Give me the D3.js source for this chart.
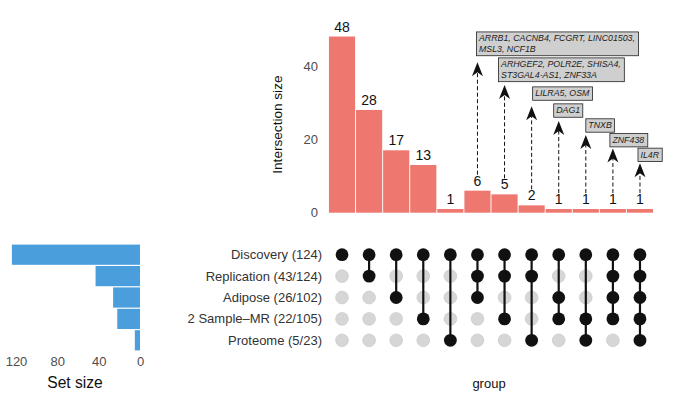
<!DOCTYPE html>
<html>
<head>
<meta charset="utf-8">
<script src="https://cdn.jsdelivr.net/npm/d3@7"></script>
<style>
  body { margin: 0; background: #fff; }
  text { font-family: "Liberation Sans", Arial, sans-serif; }
</style>
</head>
<body>
<div id="chart"></div>
<script>
// sets (rows of the matrix) and their sizes
const setNames = ["Discovery (124)", "Replication (43/124)", "Adipose (26/102)", "2 Sample\u2013MR (22/105)", "Proteome (5/23)"];
const setSizes = [124, 43, 26, 22, 5];

// intersections: which sets (row index) are in each column
const members = [
  [0], [0, 1], [0, 2], [0, 3], [0, 4],
  [0, 1, 2], [0, 1, 3], [0, 1, 4], [0, 2, 3], [0, 3, 4],
  [0, 1, 2, 3], [0, 1, 2, 3, 4]
];
const counts = [48, 28, 17, 13, 1, 6, 5, 2, 1, 1, 1, 1];

// gene labels for columns 6..12 and the height (intersection size units) the arrow points to
const annotCols = [5, 6, 7, 8, 9, 10, 11];
const annotGenes = [
  ["ARRB1, CACNB4, FCGRT, LINC01503,", "MSL3, NCF1B"],
  ["ARHGEF2, POLR2E, SHISA4,", "ST3GAL4-AS1, ZNF33A"],
  ["LILRA5, OSM"],
  ["DAG1"],
  ["TNXB"],
  ["ZNF438"],
  ["IL4R"]
];
const annotTip = [41, 34.8, 29, 25, 21.2, 17.5, 13.5];

const W = 674, H = 400;
const svg = d3.select("#chart").append("svg")
    .attr("width", W)
    .attr("height", H);

const cols = d3.range(counts.length);

// column scale shared by bars and matrix
const x = d3.scaleBand()
    .domain(cols)
    .range([328, 654])
    .padding(0.035);
const cx = i => x(i) + x.bandwidth() / 2;

// intersection size
const y = d3.scaleLinear()
    .domain([0, 50])
    .range([212.7, 29.2]);

// rows of the matrix
const row = d3.scaleBand()
    .domain(d3.range(setNames.length))
    .range([244, 351]);
const ry = i => row(i) + row.bandwidth() / 2;

// set size, drawn leftwards
const sx = d3.scaleLinear()
    .domain([0, 120])
    .range([140, 16]);

// ---- intersection bars
svg.selectAll(".bar")
    .data(cols)
    .enter().append("rect")
    .attr("class", "bar")
    .attr("fill", "#EE7770")
    .attr("x", d => x(d))
    .attr("width", x.bandwidth())
    .attr("y", d => y(counts[d]))
    .attr("height", d => y(0) - y(counts[d]));

svg.selectAll(".val")
    .data(cols)
    .enter().append("text")
    .attr("class", "val")
    .attr("x", d => cx(d))
    .attr("y", d => y(counts[d]) - 5)
    .attr("text-anchor", "middle")
    .attr("font-size", "14px")
    .attr("fill", "#111")
    .text(d => counts[d]);

// y axis, no line
const yAxis = svg.append("g")
    .attr("transform", "translate(322,0)")
    .call(d3.axisLeft(y).tickValues([0, 20, 40]).tickSize(0).tickPadding(4));
yAxis.select(".domain").remove();
yAxis.selectAll("text")
    .attr("font-size", "13px")
    .attr("fill", "#4d4d4d")
    .attr("font-family", "Liberation Sans, Arial, sans-serif");

svg.append("text")
    .attr("transform", `translate(282,${y(24)}) rotate(-90)`)
    .attr("text-anchor", "middle")
    .attr("font-size", "13.6px")
    .attr("fill", "#111")
    .text("Intersection size");

// ---- annotations: dashed arrows and gene boxes
const boxNudge = [-1, -6, 1, -5, 0, -3, -2];
const boxGap = [6.5, 3.3, 6, 3.7, 2.7, 1.6, 1.6];

annotCols.forEach((c, k) => {
    const ax = cx(c);
    const tipY = y(annotTip[k]);
    const bottom = y(counts[c]) - 16;

    svg.append("line")
        .attr("x1", ax).attr("x2", ax)
        .attr("y1", bottom).attr("y2", tipY + 9)
        .attr("stroke", "#111")
        .attr("stroke-width", 1)
        .attr("stroke-dasharray", "4,2.5");

    svg.append("path")
        .attr("d", `M${ax},${tipY} L${ax + 5.5},${tipY + 14} L${ax},${tipY + 10} L${ax - 5.5},${tipY + 14} Z`)
        .attr("fill", "#111");

    const lines = annotGenes[k];
    const g = svg.append("g");
    const lh = 10.4;
    const boxBottom = tipY - boxGap[k];
    const boxH = lines.length * lh + 3;
    const bx = ax + boxNudge[k];
    const box = g.append("rect")
        .attr("x", bx)
        .attr("y", boxBottom - boxH)
        .attr("height", boxH)
        .attr("fill", "#cfcfcf")
        .attr("stroke", "#222")
        .attr("stroke-width", 0.8);
    const t = g.append("text")
        .attr("font-size", "8.8px")
        .attr("font-style", "italic")
        .attr("fill", "#222");
    lines.forEach((l, j) => {
        t.append("tspan")
            .attr("x", bx + 2.5)
            .attr("y", boxBottom - boxH + 9.4 + j * lh)
            .text(l);
    });
    box.attr("width", t.node().getBBox().width + 5);
});

// ---- matrix
cols.forEach(c => {
    const m = members[c];
    svg.append("g").selectAll("circle")
        .data(d3.range(setNames.length))
        .enter().append("circle")
        .attr("cx", cx(c))
        .attr("cy", r => ry(r))
        .attr("r", 6.4)
        .attr("fill", r => m.includes(r) ? "#111" : "#d6d6d6")
        .attr("stroke", r => m.includes(r) ? "none" : "#c6c6c6")
        .attr("stroke-width", 0.6);
    if (m.length > 1) {
        svg.append("line")
            .attr("x1", cx(c)).attr("x2", cx(c))
            .attr("y1", ry(d3.min(m))).attr("y2", ry(d3.max(m)))
            .attr("stroke", "#111")
            .attr("stroke-width", 2.2);
    }
});

svg.selectAll(".setlab")
    .data(setNames)
    .enter().append("text")
    .attr("class", "setlab")
    .attr("x", 322)
    .attr("y", (d, i) => ry(i) + 4.5)
    .attr("text-anchor", "end")
    .attr("font-size", "13px")
    .attr("fill", "#333")
    .text(d => d);

svg.append("text")
    .attr("x", 489)
    .attr("y", 388)
    .attr("text-anchor", "middle")
    .attr("font-size", "13px")
    .attr("fill", "#111")
    .text("group");

// ---- set size bars
svg.selectAll(".setbar")
    .data(setSizes)
    .enter().append("rect")
    .attr("class", "setbar")
    .attr("fill", "#4A9EDB")
    .attr("x", d => sx(d))
    .attr("width", d => sx(0) - sx(d))
    .attr("y", (d, i) => row(i) + 0.6)
    .attr("height", row.bandwidth() - 1.2);

const sAxis = svg.append("g")
    .attr("transform", "translate(0,354)")
    .call(d3.axisBottom(sx).tickValues([0, 40, 80, 120]).tickSize(0).tickPadding(3));
sAxis.select(".domain").remove();
sAxis.selectAll("text")
    .attr("font-size", "13px")
    .attr("fill", "#4d4d4d")
    .attr("font-family", "Liberation Sans, Arial, sans-serif");

svg.append("text")
    .attr("x", 75)
    .attr("y", 388)
    .attr("text-anchor", "middle")
    .attr("font-size", "15.6px")
    .attr("fill", "#111")
    .text("Set size");
</script>
</body>
</html>
